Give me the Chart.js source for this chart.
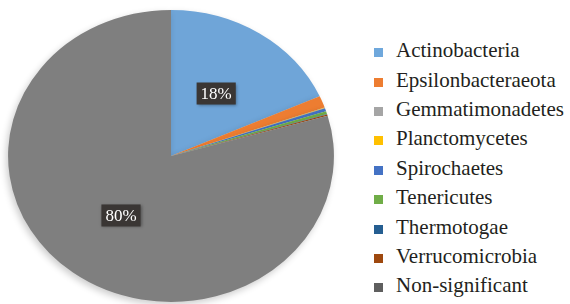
<!DOCTYPE html>
<html>
<head>
<meta charset="utf-8">
<script src="https://cdn.jsdelivr.net/npm/chart.js@4.4.0/dist/chart.umd.min.js"></script>
<style>
  html, body { margin: 0; padding: 0; background: #fff; }
  #wrap { position: relative; width: 570px; height: 304px; overflow: hidden; }
  #pie-box { position: absolute; left: 0; top: 0; width: 342px; height: 304px; }
  #legend { position: absolute; left: 374px; top: 38px; margin: 0; padding: 0; list-style: none; font-family: 'Liberation Serif', serif; font-size: 21px; color: #231f20; }
  #legend li { display: flex; align-items: center; height: 29.4px; white-space: nowrap; }
  #legend .sw { width: 9px; height: 9px; margin-right: 13px; flex: none; }
  #legend .tx { position: relative; top: -2px; }
</style>
</head>
<body>
<div id="wrap">
  <div id="pie-box"><canvas id="pie"></canvas></div>
  <ul id="legend" style="font-family:'Liberation Serif', serif; font-size:21px; color:#231f20"></ul>
</div>
<script>
const phyla = ['Actinobacteria', 'Epsilonbacteraeota', 'Gemmatimonadetes', 'Planctomycetes',
  'Spirochaetes', 'Tenericutes', 'Thermotogae', 'Verrucomicrobia', 'Non-significant'];
const shares = [18.3, 1.3, 0.05, 0.05, 0.35, 0.3, 0.05, 0.15, 79.45];
const pctLabels = ['18%', '', '', '', '', '', '', '', '80%'];
const sliceColors = ['#6fa5d8', '#ed7d31', '#a5a5a5', '#ffc000', '#4472c4', '#70ad47', '#255e91', '#9e480e', '#7f7f7f'];
const legendColors = ['#6fa8dc', '#ed7d31', '#a5a5a5', '#ffc000', '#4472c4', '#70ad47', '#255e91', '#9e480e', '#5f5f5f'];
const stretchX = 1.116; // the original pie is drawn a bit wider than tall

// legend as plain html list
document.getElementById('legend').innerHTML = phyla.map((p, i) =>
  `<li><span class="sw" style="background:${legendColors[i]}"></span><span class="tx">${p}</span></li>`).join('');

const ellipsePie = {
  id: 'ellipsePie',
  beforeDatasetsDraw(chart) {
    const arc = chart.getDatasetMeta(0).data[0];
    const ctx = chart.ctx;
    ctx.save();
    ctx.translate(arc.x, arc.y);
    ctx.scale(stretchX, 1);
    ctx.translate(-arc.x, -arc.y);
    ctx.shadowColor = 'rgba(0,0,0,0.2)';
    ctx.shadowBlur = 7;
    ctx.shadowOffsetX = -2;
    ctx.shadowOffsetY = 3;
  },
  afterDatasetsDraw(chart) {
    const ctx = chart.ctx;
    ctx.restore();
    ctx.save();
    ctx.font = "17px 'Liberation Serif'";
    ctx.textAlign = 'center';
    ctx.textBaseline = 'middle';
    chart.getDatasetMeta(0).data.forEach((arc, i) => {
      const txt = pctLabels[i];
      if (!txt) return;
      const mid = (arc.startAngle + arc.endAngle) / 2;
      const r = arc.outerRadius * 0.51;
      const x = arc.x + Math.cos(mid) * r * stretchX;
      const y = arc.y + Math.sin(mid) * r;
      const w = ctx.measureText(txt).width + 8;
      ctx.shadowColor = 'rgba(0,0,0,0.35)';
      ctx.shadowBlur = 3;
      ctx.shadowOffsetX = 1;
      ctx.shadowOffsetY = 1;
      ctx.fillStyle = '#3a3634';
      ctx.fillRect(x - w / 2, y - 11, w, 22);
      ctx.shadowColor = 'transparent';
      ctx.fillStyle = '#ffffff';
      ctx.fillText(txt, x, y + 1);
    });
    ctx.restore();
  }
};

new Chart(document.getElementById('pie'), {
  type: 'pie',
  data: {
    labels: phyla,
    datasets: [{ data: shares, backgroundColor: sliceColors, borderWidth: 0 }]
  },
  options: {
    responsive: true,
    maintainAspectRatio: false,
    animation: false,
    layout: { padding: { top: 10, bottom: 2, left: 0, right: 0 } },
    plugins: { legend: { display: false }, tooltip: { enabled: false } }
  },
  plugins: [ellipsePie]
});
</script>
</body>
</html>
